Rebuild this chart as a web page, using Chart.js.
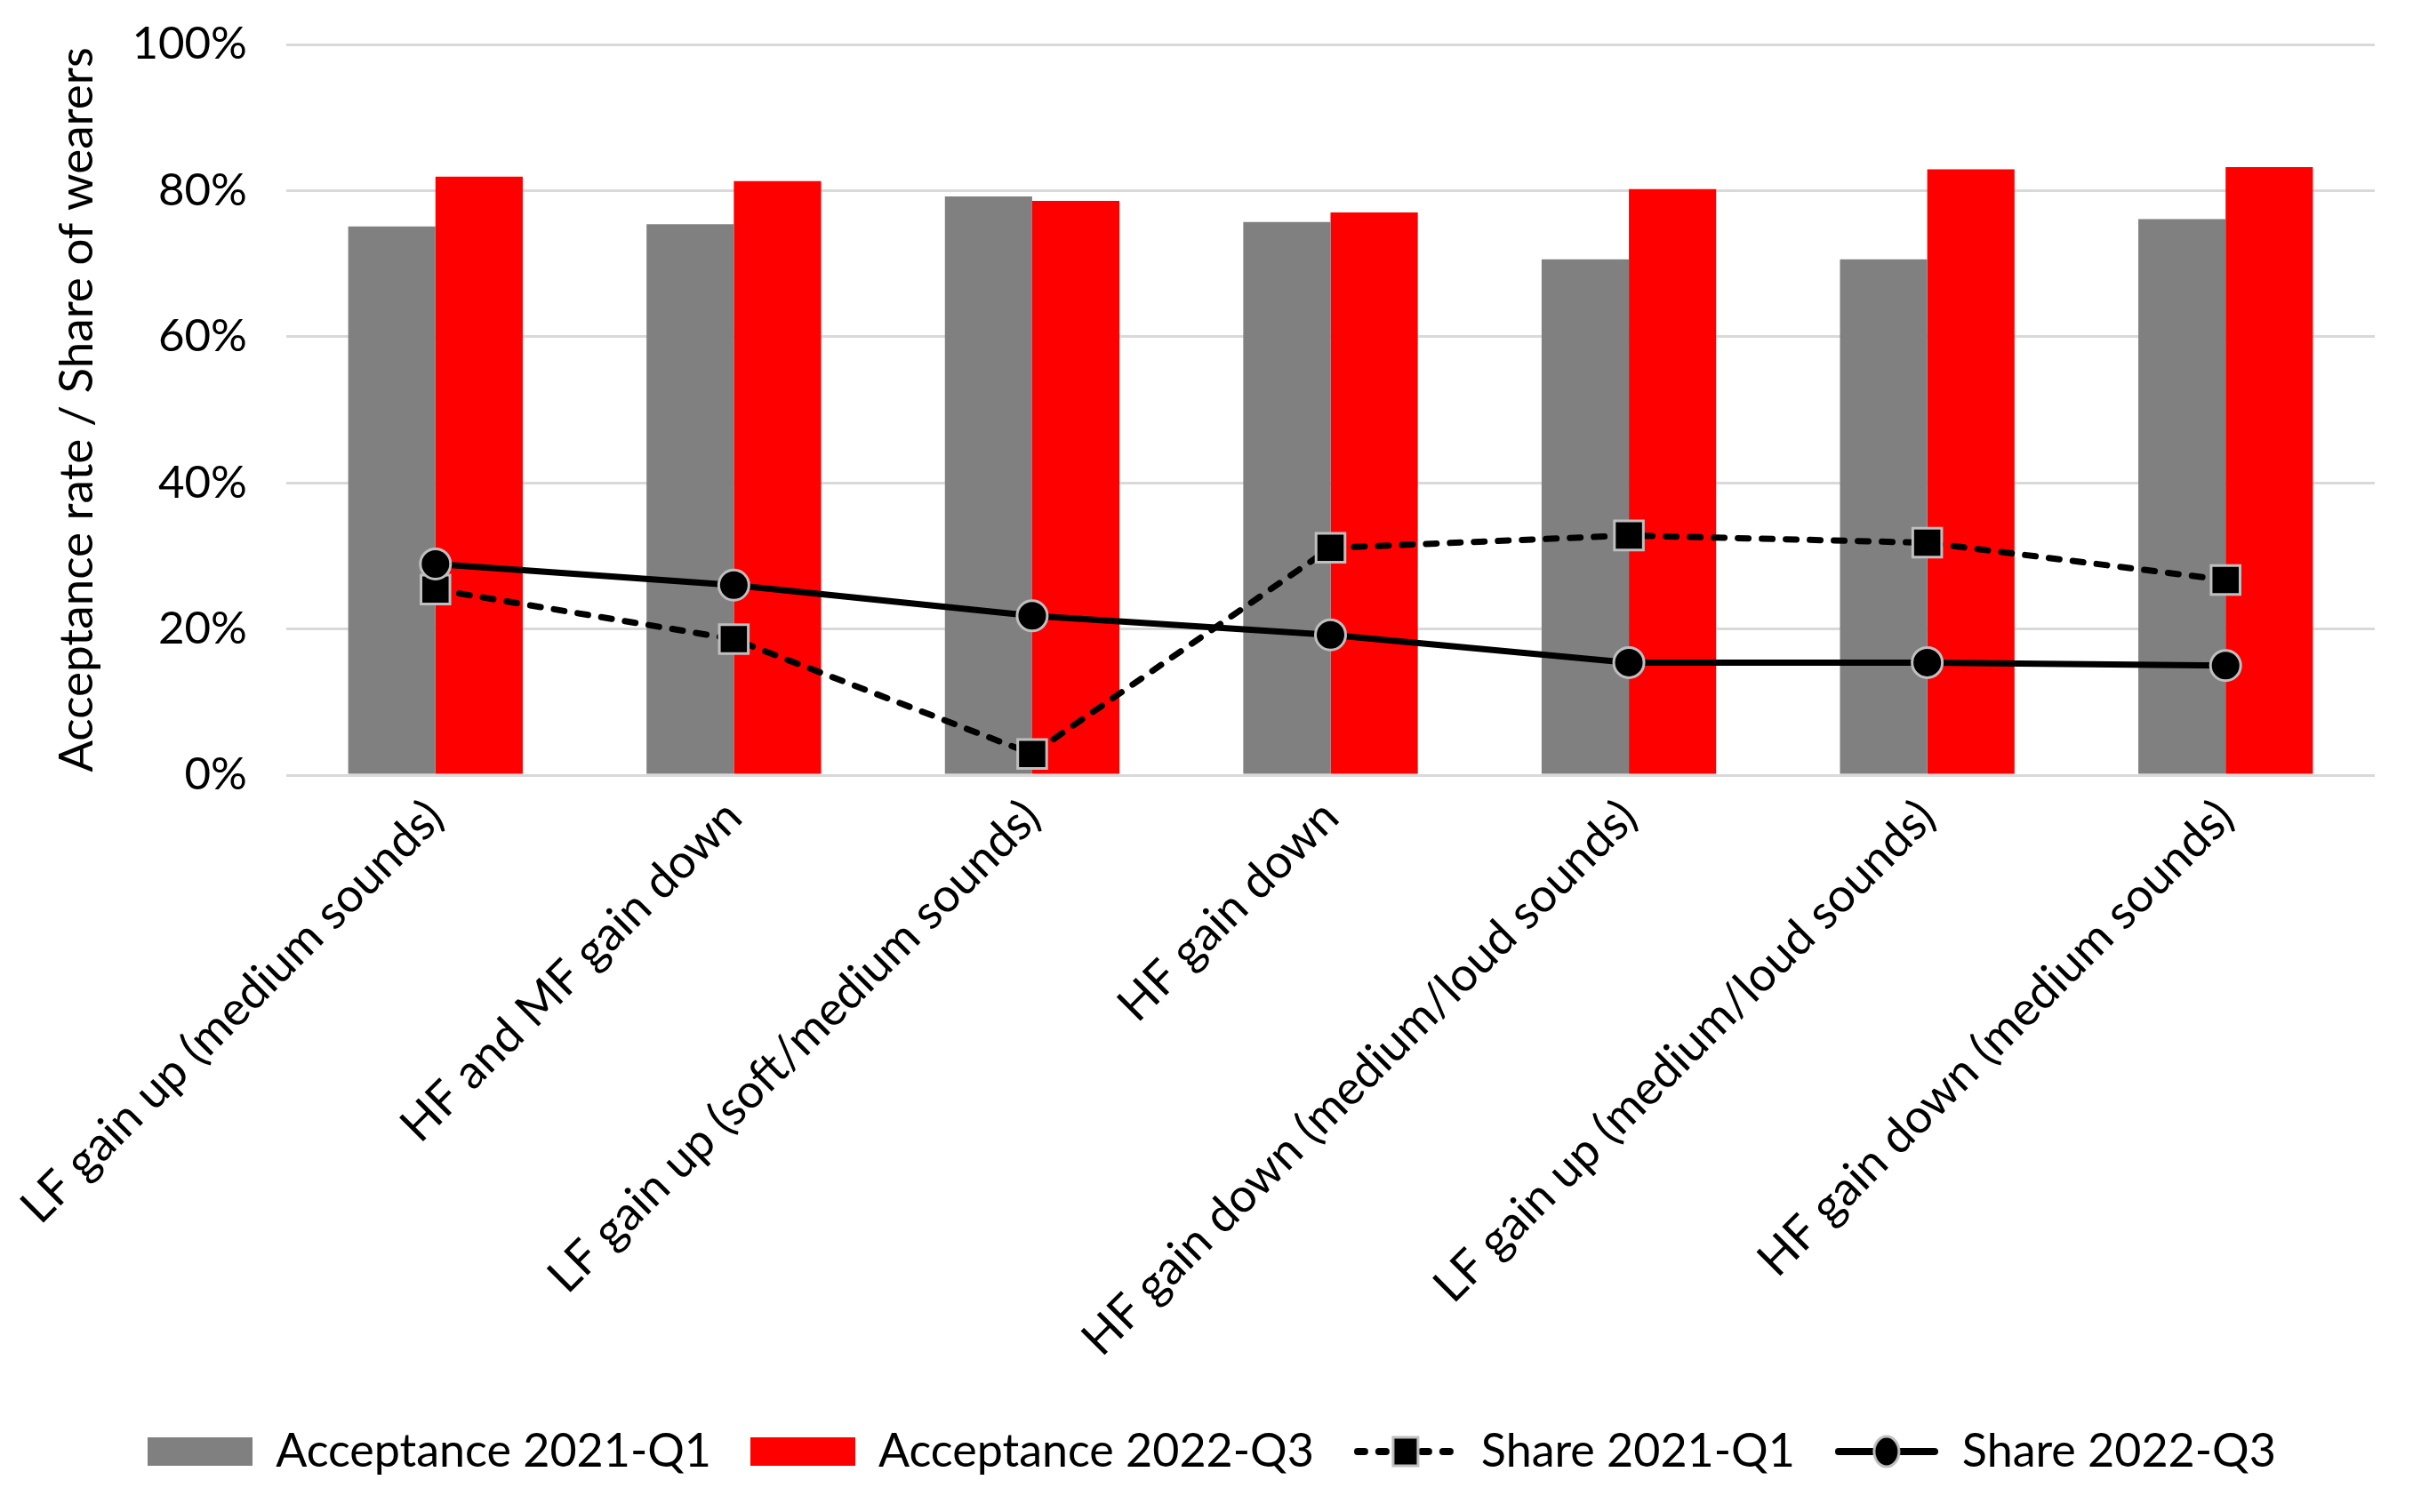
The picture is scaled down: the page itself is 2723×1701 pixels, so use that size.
<!DOCTYPE html>
<html>
<head>
<meta charset="utf-8">
<script src="https://cdn.jsdelivr.net/npm/chart.js@4"></script>
<style>
  html, body { margin: 0; padding: 0; background: #fff; }
  #wrap { width: 2723px; height: 1701px; }
</style>
</head>
<body>
<div id="wrap"><canvas id="chart" width="2723" height="1701"></canvas></div>
<script>
// Datos
const categorias = [
    'LF gain up (medium sounds)',
    'HF and MF gain down',
    'LF gain up (soft/medium sounds)',
    'HF gain down',
    'HF gain down (medium/loud sounds)',
    'LF gain up (medium/loud sounds)',
    'HF gain down (medium sounds)'
];
const aceptacion2021 = [75.1, 75.4, 79.2, 75.7, 70.6, 70.6, 76.1];
const aceptacion2022 = [81.9, 81.3, 78.6, 77.0, 80.2, 82.9, 83.2];
const cuota2021 = [25.4, 18.6, 2.9, 31.1, 32.8, 31.8, 26.7];
const cuota2022 = [28.9, 26.0, 21.8, 19.2, 15.4, 15.4, 15.0];
const ticksY = [0, 20, 40, 60, 80, 100];

const FUENTE = 'Lato, "Open Sans", sans-serif';

// Iconos de la leyenda
function iconoBarra(color) {
    const c = document.createElement('canvas');
    c.width = 118; c.height = 32;
    const ctx = c.getContext('2d');
    ctx.fillStyle = color;
    ctx.fillRect(0, 0, 118, 32);
    return c;
}

function iconoLinea(discontinua, forma) {
    const c = document.createElement('canvas');
    c.width = 116; c.height = 40;
    const ctx = c.getContext('2d');
    ctx.strokeStyle = '#000';
    ctx.lineWidth = 8;
    ctx.lineCap = 'round';
    if (discontinua) ctx.setLineDash([8, 16]);
    ctx.beginPath();
    ctx.moveTo(4, 20);
    ctx.lineTo(112, 20);
    ctx.stroke();
    ctx.setLineDash([]);
    ctx.fillStyle = '#000';
    ctx.strokeStyle = '#bfbfbf';
    ctx.lineWidth = 3;
    ctx.beginPath();
    if (forma === 'rect') ctx.rect(58 - 14, 4, 28, 32);
    else ctx.ellipse(58, 20, 14, 17, 0, 0, Math.PI * 2);
    ctx.fill();
    ctx.stroke();
    return c;
}

const iconos = [
    iconoBarra('#808080'),
    iconoBarra('#ff0000'),
    iconoLinea(true, 'rect'),
    iconoLinea(false, 'circle')
];

const ctx = document.getElementById('chart').getContext('2d');
new Chart(ctx, {
    type: 'bar',
    data: {
        labels: categorias,
        datasets: [
            { label: 'Acceptance 2021-Q1', data: aceptacion2021, backgroundColor: '#808080', order: 3,
              categoryPercentage: 0.585, barPercentage: 1.0 },
            { label: 'Acceptance 2022-Q3', data: aceptacion2022, backgroundColor: '#ff0000', order: 3,
              categoryPercentage: 0.585, barPercentage: 1.0 },
            { type: 'line', label: 'Share 2021-Q1', data: cuota2021, borderColor: '#000', borderWidth: 7,
              borderDash: [12, 15], borderCapStyle: 'round', pointStyle: 'rect', pointRadius: 23,
              pointBackgroundColor: '#000', pointBorderColor: '#bfbfbf', pointBorderWidth: 3, order: 2 },
            { type: 'line', label: 'Share 2022-Q3', data: cuota2022, borderColor: '#000', borderWidth: 7,
              pointStyle: 'circle', pointRadius: 17, pointBackgroundColor: '#000',
              pointBorderColor: '#bfbfbf', pointBorderWidth: 3, order: 1 }
        ]
    },
    options: {
        responsive: false,
        animation: false,
        layout: { padding: { top: 50, right: 52, bottom: 32, left: 55 } },
        scales: {
            x: {
                grid: { display: false },
                border: { display: false },
                ticks: { color: '#000', font: { family: FUENTE, size: 53 }, minRotation: 45, maxRotation: 45, padding: 8 },
                afterFit: s => { s.height = 691; }
            },
            y: {
                min: 0, max: 100,
                afterBuildTicks: s => { s.ticks = ticksY.map(v => ({ value: v })); },
                grid: { color: '#d9d9d9', lineWidth: 3, drawTicks: false },
                border: { display: false },
                ticks: { color: '#000', font: { family: FUENTE, size: 51 }, padding: 44, callback: v => v + '%' },
                title: { display: true, text: 'Acceptance rate / Share of wearers', color: '#000',
                         font: { family: FUENTE, size: 53 }, padding: 0 },
                afterFit: s => { s.width = 267; s.paddingTop = 0; s.paddingBottom = 0; }
            }
        },
        plugins: {
            tooltip: { enabled: false },
            legend: {
                position: 'bottom',
                labels: {
                    color: '#000',
                    font: { family: FUENTE, size: 52 },
                    usePointStyle: true,
                    pointStyleWidth: 118,
                    padding: 44,
                    sort: (a, b) => a.datasetIndex - b.datasetIndex,
                    generateLabels: chart => Chart.defaults.plugins.legend.labels.generateLabels(chart)
                        .map(l => ({ ...l, pointStyle: iconos[l.datasetIndex] }))
                }
            }
        }
    }
});
</script>
</body>
</html>
